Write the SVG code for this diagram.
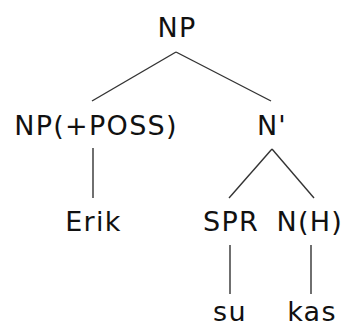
<svg xmlns="http://www.w3.org/2000/svg" width="343" height="327" viewBox="0 0 343 327">
<style>
text{font-family:"DejaVu Sans",Verdana,sans-serif;font-size:27px;fill:#111;text-anchor:middle;letter-spacing:1.3px}
.e line{stroke:#333;stroke-width:1.4;stroke-linecap:butt}
</style>
<rect width="343" height="327" fill="#fff"/>
<g class="e" id="connectors">
<line x1="176" y1="52" x2="92" y2="101"/>
<line x1="176" y1="52" x2="271" y2="101"/>
<line x1="93" y1="148" x2="93" y2="198"/>
<line x1="272" y1="149" x2="229" y2="198"/>
<line x1="272" y1="149" x2="314" y2="198"/>
<line x1="230" y1="245" x2="230" y2="294"/>
<line x1="311" y1="245" x2="311" y2="294"/>
</g>
<g id="np"><text x="177" y="37">NP</text></g>
<g id="np-poss"><text x="96" y="135">NP(+POSS)</text></g>
<g id="nbar"><text x="272" y="135">N'</text></g>
<g id="erik"><text x="93.5" y="231">Erik</text></g>
<g id="spr"><text x="231" y="231">SPR</text></g>
<g id="nh"><text x="309.8" y="231">N(H)</text></g>
<g id="su"><text x="230" y="321">su</text></g>
<g id="kas"><text x="312" y="321">kas</text></g>
</svg>
